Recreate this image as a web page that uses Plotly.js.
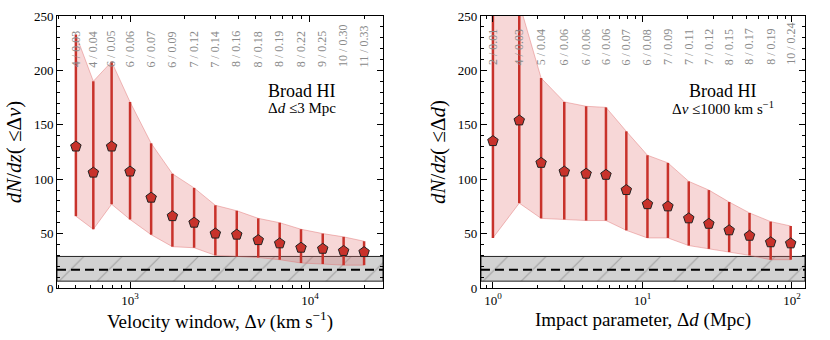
<!DOCTYPE html>
<html>
<head>
<meta charset="utf-8">
<script src="https://cdn.plot.ly/plotly-3.0.1.min.js"></script>
<style>
  html, body { margin: 0; padding: 0; background: #fff; }
  #myPlot { width: 830px; height: 340px; }
</style>
</head>
<body>
<div id="myPlot"></div>
<script>
// Left panel: velocity window (km/s)
const velWindow = [500, 625, 790, 1000, 1310, 1720, 2270, 2980, 3920, 5160, 6790, 8920, 11780, 15390, 20000];
const dndzVel = [130, 106, 130, 107, 83, 66, 60, 50, 49, 44, 41, 37, 36, 34, 33];
const upperVel = [233, 190, 208, 171, 133, 105, 92, 76, 71, 64, 60, 54, 50, 47, 43];
const lowerVel = [66, 54, 77, 63, 49, 38, 37, 30, 29, 28, 26, 23, 22, 21, 21];
const labelsVel = ['4 / 0.03', '4 / 0.04', '6 / 0.05', '6 / 0.06', '6 / 0.07', '6 / 0.09', '7 / 0.12', '7 / 0.14',
                   '8 / 0.16', '8 / 0.18', '8 / 0.19', '8 / 0.22', '9 / 0.25', '10 / 0.30', '11 / 0.33'];

// Right panel: impact parameter (Mpc)
const impactParam = [1.0, 1.5, 2.1, 3.0, 4.2, 5.7, 7.8, 10.8, 14.8, 20.4, 27.8, 38, 52, 72, 98];
const dndzImp = [135, 154, 115, 107, 105, 104, 90, 77, 75, 64, 59, 53, 48, 42, 41];
const upperImp = [300, 262, 193, 171, 167, 166, 144, 122, 115, 98, 90, 79, 69, 61, 57];
const lowerImp = [46, 78, 64, 63, 62, 62, 53, 46, 46, 39, 36, 33, 30, 26, 26];
const labelsImp = ['2 / 0.01', '4 / 0.03', '5 / 0.04', '6 / 0.06', '6 / 0.06', '6 / 0.06', '6 / 0.07', '6 / 0.08',
                   '7 / 0.09', '7 / 0.11', '7 / 0.12', '8 / 0.15', '8 / 0.17', '8 / 0.19', '10 / 0.24'];

// random-sightline reference level and its range
const fieldMean = 16.7;
const fieldLow = 6.3;
const fieldHigh = 29;

const rangeVel = [2.594, 4.406];
const rangeImp = [-0.08, 2.087];

const serif = 'Liberation Serif';
const red = '#c8322b';

function panelTraces(x, y, up, lo, xr, xa, ya) {
    const x0 = Math.pow(10, xr[0]), x1 = Math.pow(10, xr[1]);
    return [
        {   // gray hatched band
            x: [x0, x1, x1, x0, x0], y: [fieldLow, fieldLow, fieldHigh, fieldHigh, fieldLow],
            xaxis: xa, yaxis: ya, type: 'scatter', mode: 'lines',
            fill: 'toself', fillcolor: '#d2d2d2',
            fillpattern: {shape: '/', fgcolor: '#a0a0a0', bgcolor: '#d2d2d2', size: 27, solidity: 0.04},
            line: {color: '#222', width: 1}, hoverinfo: 'skip', showlegend: false
        },
        {
            x: [x0, x1], y: [fieldMean, fieldMean], xaxis: xa, yaxis: ya,
            type: 'scatter', mode: 'lines', line: {color: '#000', width: 2, dash: '9px,5px'},
            hoverinfo: 'skip', showlegend: false
        },
        {
            x: x, y: lo, xaxis: xa, yaxis: ya, type: 'scatter', mode: 'lines',
            line: {color: 'rgba(225,110,110,0.45)', width: 1}, showlegend: false
        },
        {
            x: x, y: up, xaxis: xa, yaxis: ya, type: 'scatter', mode: 'lines',
            fill: 'tonexty', fillcolor: 'rgba(225,110,110,0.28)',
            line: {color: 'rgba(225,110,110,0.45)', width: 1}, showlegend: false
        },
        {
            x: x, y: y, xaxis: xa, yaxis: ya, type: 'scatter', mode: 'markers',
            error_y: {
                type: 'data', symmetric: false,
                array: up.map((u, i) => u - y[i]),
                arrayminus: lo.map((l, i) => y[i] - l),
                color: red, thickness: 2.5, width: 0
            },
            marker: {symbol: 'pentagon', size: 11, color: red, line: {color: '#222', width: 1}},
            showlegend: false
        }
    ];
}

const traces = [
    ...panelTraces(velWindow, dndzVel, upperVel, lowerVel, rangeVel, 'x', 'y'),
    ...panelTraces(impactParam, dndzImp, upperImp, lowerImp, rangeImp, 'x2', 'y2')
];

function logAxis(domain, xr, vals, title, anchor) {
    return {
        domain: domain, type: 'log', range: xr, anchor: anchor,
        tickmode: 'array', tickvals: vals.map(p => Math.pow(10, p)),
        ticktext: vals.map(p => '10<sup>' + p + '</sup>'),
        ticks: 'inside', ticklen: 6, tickcolor: '#000', mirror: 'allticks',
        showline: true, linecolor: '#000', linewidth: 1, showgrid: false, zeroline: false,
        minor: {dtick: 'D1', ticks: 'inside', ticklen: 3, tickcolor: '#000', showgrid: false},
        tickfont: {family: serif, size: 13, color: '#000'},
        title: {text: title, font: {family: serif, size: 19, color: '#000'}, standoff: 6}
    };
}

function linAxis(anchor, title) {
    return {
        anchor: anchor, range: [0, 250], dtick: 50,
        ticks: 'inside', ticklen: 6, tickcolor: '#000', mirror: 'allticks',
        showline: true, linecolor: '#000', linewidth: 1, showgrid: false, zeroline: false,
        minor: {dtick: 10, ticks: 'inside', ticklen: 3, tickcolor: '#000', showgrid: false},
        tickfont: {family: serif, size: 13, color: '#000'},
        title: {text: title, font: {family: serif, size: 21, color: '#000'}, standoff: 6}
    };
}

const annotations = [];
function addLabels(x, labels, xref, yref, yPos) {
    x.forEach((v, i) => {
        annotations.push({
            x: Math.log10(v), y: yPos, xref: xref, yref: yref, text: labels[i],
            textangle: -90, showarrow: false, xanchor: 'center', yanchor: 'bottom',
            font: {family: serif, size: 12, color: '#8a8a8a'}
        });
    });
}
addLabels(velWindow, labelsVel, 'x', 'y', 201);
addLabels(impactParam, labelsImp, 'x2', 'y2', 203);

function boxText(x, y, text, size) {
    return {x: x, y: y, xref: 'paper', yref: 'paper', text: text, showarrow: false,
            xanchor: 'center', yanchor: 'middle', font: {family: serif, size: size, color: '#000'}};
}
annotations.push(
    boxText(0.3275, 0.726, 'Broad HI', 18),
    boxText(0.3275, 0.663, 'Δ<i>d</i> ≤3 Mpc', 15),
    boxText(0.89, 0.726, 'Broad HI', 18),
    boxText(0.89, 0.663, 'Δ<i>v</i> ≤1000 km s<sup>−1</sup>', 15)
);

const layout = {
    width: 830, height: 340,
    margin: {l: 57, r: 25, t: 16, b: 52},
    paper_bgcolor: '#fff', plot_bgcolor: '#fff',
    xaxis: logAxis([0, 0.4358], rangeVel, [3, 4], 'Velocity window, Δ<i>v</i> (km s<sup>−1</sup>)', 'y'),
    yaxis: linAxis('x', '<i>dN</i>/<i>dz</i>( ≤Δ<i>v</i>)'),
    xaxis2: logAxis([0.5668, 1], rangeImp, [0, 1, 2], 'Impact parameter, Δ<i>d</i> (Mpc)', 'y2'),
    yaxis2: linAxis('x2', '<i>dN</i>/<i>dz</i>( ≤Δ<i>d</i>)'),
    annotations: annotations,
    showlegend: false
};

Plotly.newPlot('myPlot', traces, layout, {displayModeBar: false});
</script>
</body>
</html>
